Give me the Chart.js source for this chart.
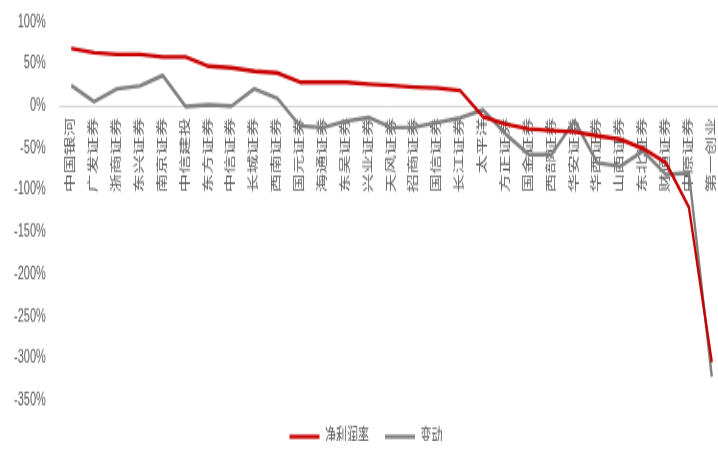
<!DOCTYPE html>
<html>
<head>
<meta charset="utf-8">
<script src="https://cdn.jsdelivr.net/npm/chart.js@4"></script>
<style>
    html { overflow: hidden; background: #fff; }
    body { margin: 0; padding: 0; width: 732px; height: 451px; }
    /* the source picture is stretched vertically, so we stretch too */
    #chart { display: block; transform: translateY(-13.5px) scaleY(1.702); transform-origin: 0 0; }
</style>
</head>
<body>
<canvas id="chart" width="732" height="267"></canvas>
<script>
const brokers = ['中国银河', '广发证券', '浙商证券', '东兴证券', '南京证券', '中信建投', '东方证券', '中信证券',
    '长城证券', '西南证券', '国元证券', '海通证券', '东吴证券', '兴业证券', '天风证券', '招商证券', '国信证券',
    '长江证券', '太平洋', '方正证券', '国金证券', '西部证券', '华安证券', '华西证券', '山西证券', '东北证券',
    '财通证券', '中原证券', '第一创业'];

// 净利润率 (%)
const netMargin = [68, 63, 61, 61, 58, 58, 47, 45, 41, 39, 28, 28, 28, 25.5, 24, 22, 21, 18,
    -13, -22, -27.5, -29.5, -31, -36, -40, -51, -68, -121, -305];

// 变动 (%)
const change = [24, 5, 20, 23.5, 36, -1, 1, -0.5, 20, 9, -24, -26, -18.5, -14, -26, -25.5, -20, -14.5,
    -5, -34, -58, -58, -18, -68, -72, -54, -82, -80, -322];

const yTicks = { min: -350, max: 100, step: 50 };

const cjk = "'Liberation Sans', 'Noto Sans CJK SC', sans-serif";
const grey = '#595959';

const ctx = document.getElementById('chart').getContext('2d');
const chart = new Chart(ctx, {
    type: 'line',
    data: {
        labels: brokers,
        datasets: [
            {
                label: '净利润率',
                data: netMargin,
                borderColor: '#C80000',
                backgroundColor: '#C80000',
                borderWidth: 2.4,
                pointRadius: 0,
                tension: 0,
                borderJoinStyle: 'round',
                fill: false
            },
            {
                label: '变动',
                data: change,
                borderColor: '#808080',
                backgroundColor: '#808080',
                borderWidth: 2.4,
                pointRadius: 0,
                tension: 0,
                borderJoinStyle: 'round',
                fill: false
            }
        ]
    },
    options: {
        responsive: false,
        animation: false,
        devicePixelRatio: 1,
        layout: {
            padding: { left: 0, right: 0, top: 4, bottom: -13 }
        },
        scales: {
            x: {
                position: { y: 0 }, // labels hang off the 0% line
                offset: true,
                grid: { display: false, drawTicks: false },
                border: { display: true, color: '#d9d9d9', width: 1 },
                ticks: {
                    autoSkip: false,
                    minRotation: 90,
                    maxRotation: 90,
                    padding: 7,
                    color: grey,
                    font: { family: cjk, size: 11 }
                }
            },
            y: {
                min: yTicks.min,
                max: yTicks.max,
                grid: { display: false, drawTicks: false },
                border: { display: false },
                ticks: {
                    stepSize: yTicks.step,
                    padding: 14,
                    color: grey,
                    font: { family: cjk, size: 11 },
                    callback: (v) => v + '%'
                }
            }
        },
        plugins: {
            legend: {
                position: 'bottom',
                labels: {
                    usePointStyle: true,
                    pointStyle: 'line',
                    pointStyleWidth: 30,
                    padding: 16,
                    color: grey,
                    font: { family: cjk, size: 11 }
                }
            },
            tooltip: { enabled: false }
        }
    }
});
</script>
</body>
</html>
